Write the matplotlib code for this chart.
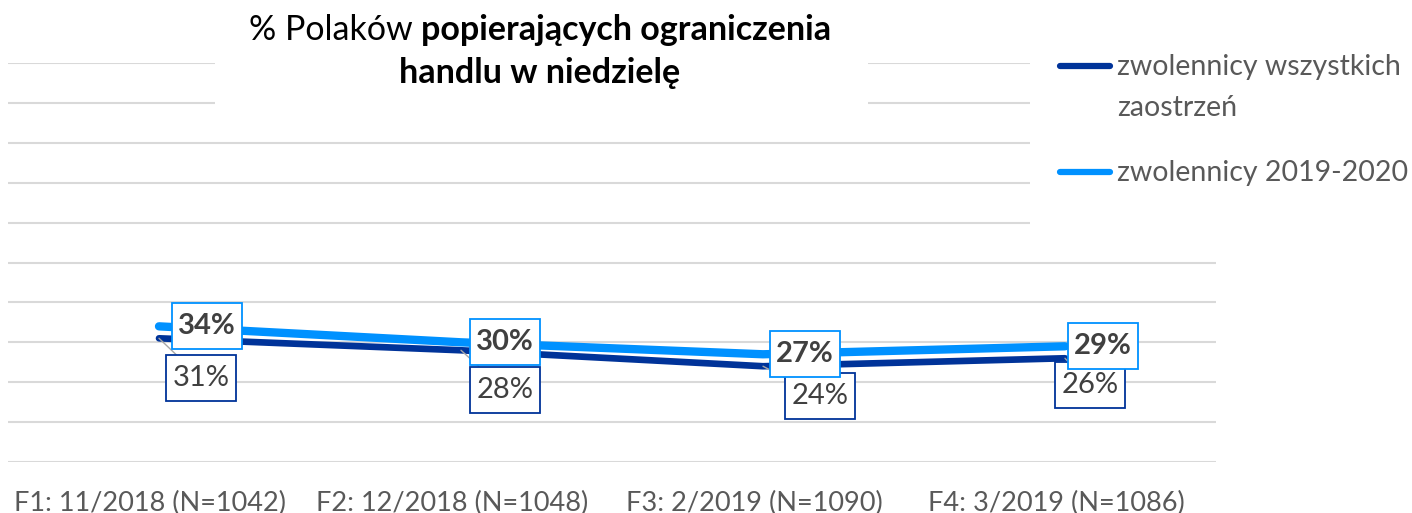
import matplotlib
matplotlib.use('Agg')
import matplotlib.pyplot as plt
import matplotlib.transforms as mtransforms
from matplotlib.patches import Rectangle
from matplotlib.lines import Line2D
from matplotlib.path import Path
import numpy as np

plt.rcParams['font.family'] = ['Lato', 'DejaVu Sans']

## data
categories = ['F1: 11/2018 (N=1042)', 'F2: 12/2018 (N=1048)',
              'F3: 2/2019 (N=1090)', 'F4: 3/2019 (N=1086)']
wszystkich = [31, 28, 24, 26]     # zwolennicy wszystkich zaostrzeń
zwol_2019 = [34, 30, 27, 29]      # zwolennicy 2019-2020
series_names = ['zwolennicy wszystkich\nzaostrzeń', 'zwolennicy 2019-2020']

dark = '#003399'
light = '#0091FF'
txt = '#404040'
grey = '#595959'

def label_box(x0, y0, width, height, mutation_size):
    ## square box, narrower padding left/right than top/bottom (like excel labels)
    px, py = 0.22 * mutation_size, 0.34 * mutation_size
    x0, y0 = x0 - px, y0 - py
    x1, y1 = x0 + width + 2 * px, y0 + height + 2 * py
    return Path([(x0, y0), (x1, y0), (x1, y1), (x0, y1), (x0, y0)], closed=True)

W, H = 1412, 513
fig = plt.figure(figsize=(W/100, H/100), dpi=100)
ax = fig.add_axes([8/W, (H-462)/H, (1216-8)/W, (462-63)/H])

x = np.arange(len(categories))
ax.plot(x, wszystkich, color=dark, lw=4.8, solid_capstyle='round', zorder=3)
ax.plot(x, zwol_2019, color=light, lw=6, solid_capstyle='round', zorder=4)

ax.set_xlim(-0.5, len(categories)-0.5)
ax.set_ylim(0, 100)
ax.set_yticks(np.arange(0, 101, 10))
ax.yaxis.grid(True, color='#D9D9D9', lw=1.5)
ax.set_axisbelow(True)
ax.tick_params(left=False, bottom=False, labelleft=False)
ax.set_xticks(x)
ax.set_xticklabels(categories, fontsize=19.5, color=grey)
ax.tick_params(axis='x', pad=17)
shift = mtransforms.ScaledTranslation(-9/100, 0, fig.dpi_scale_trans)
for lab in ax.get_xticklabels():
    lab.set_transform(lab.get_transform() + shift)
for s in ax.spines.values():
    s.set_visible(False)

## data labels (offsets in pixels)
off_light = [(48, 0), (44, 0), (42, 0), (38, 0)]
off_dark = [(42, -40), (44, -40), (57, -30), (25, -27)]
for i in range(len(x)):
    ax.annotate(f'{wszystkich[i]}%', (x[i], wszystkich[i]), xytext=off_dark[i],
                textcoords='offset pixels', ha='center', va='center',
                fontsize=21, color=txt, zorder=5,
                bbox=dict(boxstyle=label_box, fc='white', ec=dark, lw=1.3),
                arrowprops=dict(arrowstyle='-', color='#A6A6A6', lw=1, shrinkA=0, shrinkB=0))
    ax.annotate(f'{zwol_2019[i]}%', (x[i], zwol_2019[i]), xytext=off_light[i],
                textcoords='offset pixels', ha='center', va='center',
                fontsize=21, fontweight='bold', color=txt, zorder=6,
                bbox=dict(boxstyle=label_box, fc='white', ec=light, lw=1.3))

## white areas behind title and legend (gridlines are hidden there)
fig.patches.append(Rectangle((215/W, 1-115/H), (868-215)/W, 115/H, transform=fig.transFigure,
                             fc='white', ec='none', zorder=1))
fig.patches.append(Rectangle((1030/W, 1-240/H), (W-1030)/W, 240/H, transform=fig.transFigure,
                             fc='white', ec='none', zorder=1))

## title: regular + bold parts
r = fig.canvas.get_renderer()
t1 = fig.text(0, 1-30/H, '% Polaków ', fontsize=24.5, va='center', ha='left', color='black')
t2 = fig.text(0, 1-30/H, 'popierających ograniczenia', fontsize=24.5, fontweight='bold',
              va='center', ha='left', color='black')
w1 = t1.get_window_extent(r).width
w2 = t2.get_window_extent(r).width
x0 = 540 - (w1 + w2) / 2
t1.set_x(x0 / W)
t2.set_x((x0 + w1) / W)
fig.text(540/W, 1-73/H, 'handlu w niedzielę', fontsize=24.5, fontweight='bold',
         va='center', ha='center', color='black')

## legend drawn by hand so the handle sits at the first text line
leg_y = [66, 172]
for col, name, yy in zip([dark, light], series_names, leg_y):
    fig.add_artist(Line2D([1060/W, 1110/W], [1-yy/H, 1-yy/H], color=col, lw=4.5,
                          solid_capstyle='round', transform=fig.transFigure))
    fig.text(1117/W, 1-(yy-12)/H, name, fontsize=20.5, color=grey, va='top', ha='left',
             linespacing=1.7)

fig.savefig('out.png', dpi=100)
